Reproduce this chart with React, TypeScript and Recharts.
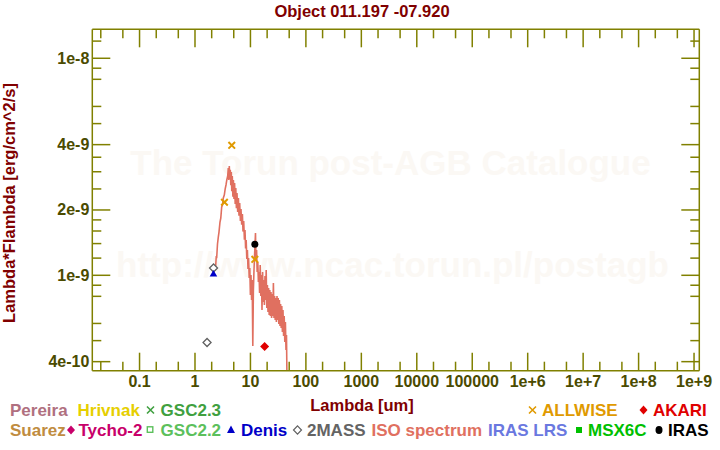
import React from "react";
import { ComposedChart, Line, Scatter, XAxis, YAxis } from "recharts";

// ISO spectrum, wavelength [um] and lambda*F_lambda [erg/cm^2/s]
const ISO_WAVE = [
  2.36, 2.42, 2.46, 2.545, 2.632, 2.709, 2.824, 2.92, 3.03, 3.133, 3.239, 3.376, 3.504, 3.624,
  3.746, 3.888, 3.986, 4.071, 4.156, 4.243, 4.332, 4.422, 4.515, 4.609, 4.706, 4.825, 4.926,
  5.05, 5.178, 5.309, 5.443, 5.58, 5.721, 5.89, 6.064, 6.216, 6.4, 6.59, 6.756, 6.955, 7.161,
  7.341, 7.557, 7.781, 7.977, 8.176, 8.38, 8.593, 8.81, 9.032, 9.262, 9.494, 9.734, 9.98,
  10.23, 10.49, 10.75, 11.03, 11.3, 11.59, 11.88, 12.33, 12.59, 12.91, 13.23, 13.57, 13.91,
  14.27, 14.62, 14.99, 15.37, 15.76, 16.16, 16.56, 16.98, 17.41, 17.85, 18.3, 18.76, 19.23,
  19.72, 20.22, 20.73, 21.25, 21.79, 22.34, 22.9, 23.48, 24.07, 24.67, 25.3, 25.94, 26.59,
  27.26, 27.94, 28.65, 29.38, 30.12, 30.88, 31.66, 32.45, 33.28, 34.12, 34.98, 35.86, 36.77,
  37.7, 38.64, 39.62, 40.62, 41.65, 42.7, 43.77, 44.68, 45.62,
];
const ISO_FLUX = [
  1.104e-9, 1.227e-9, 1.2e-9, 1.394e-9, 1.5e-9, 1.582e-9, 1.76e-9, 1.836e-9, 2.064e-9, 2.109e-9,
  2.272e-9, 2.344e-9, 2.5e-9, 2.607e-9, 2.75e-9, 2.868e-9, 3.12e-9, 2.75e-9, 3.19e-9, 2.78e-9,
  3.06e-9, 2.6e-9, 2.99e-9, 2.44e-9, 2.868e-9, 2.3e-9, 2.75e-9, 2.25e-9, 2.664e-9,
  2.13e-9, 2.525e-9, 2.04e-9, 2.394e-9, 1.96e-9, 2.272e-9, 1.88e-9, 2.154e-9, 1.78e-9,
  2.02e-9, 1.71e-9, 1.916e-9, 1.59e-9, 1.779e-9, 1.46e-9, 1.617e-9, 1.33e-9, 1.455e-9,
  1.19e-9, 1.308e-9, 1.07e-9, 1.2e-9, 9.72e-10, 1.08e-9, 8.11e-10, 1.003e-9, 7.69e-10, 9.51e-10,
  4.72e-10, 8.55e-10, 1.058e-9, 1.24e-9, 1.566e-9, 1.176e-9, 1.308e-9, 1.036e-9, 1.151e-9,
  9.31e-10, 1.036e-9, 8.29e-10, 1.115e-9, 8.03e-10, 1.003e-9, 6.92e-10, 1.036e-9, 7.53e-10,
  9.51e-10, 7.3e-10, 9.93e-10, 7.69e-10, 1.058e-9, 7.07e-10, 9.02e-10, 6.77e-10, 8.74e-10,
  6.56e-10, 8.55e-10, 6.49e-10, 8.37e-10, 6.36e-10, 8.2e-10, 6.49e-10, 9.21e-10, 6.36e-10,
  8.03e-10, 6.22e-10, 7.86e-10, 6.09e-10, 8.03e-10, 6.22e-10, 7.86e-10, 5.96e-10, 7.69e-10,
  5.84e-10, 7.38e-10, 5.72e-10, 7.22e-10, 5.48e-10, 6.92e-10, 5.25e-10, 6.49e-10, 4.93e-10,
  6.09e-10, 4.53e-10, 5.31e-10, 3.29e-10,
];

const ALLWISE_WAVE = [3.4, 4.6, 12];
const ALLWISE_FLUX = [2.17e-9, 3.97e-9, 1.185e-9];
const IRAS_WAVE = [12];
const IRAS_FLUX = [1.39e-9];
const TWOMASS_WAVE = [1.65, 2.16];
const TWOMASS_FLUX = [4.9e-10, 1.08e-9];
const DENIS_WAVE = [2.15];
const DENIS_FLUX = [1.02e-9];
const AKARI_WAVE = [18];
const AKARI_FLUX = [4.7e-10];

const X_MAJOR = [0.1, 1, 10, 100, 1000, 1e4, 1e5, 1e6, 1e7, 1e8, 1e9];
const X_LABELS = ["0.1", "1", "10", "100", "1000", "10000", "100000", "1e+6", "1e+7", "1e+8", "1e+9"];
const X_MINOR = [
  0.02, 0.05, 0.2, 0.5, 2, 5, 20, 50, 200, 500, 2000, 5000, 2e4, 5e4, 2e5, 5e5, 2e6, 5e6, 2e7,
  5e7, 2e8, 5e8,
];
const Y_MAJOR = [4e-10, 1e-9, 2e-9, 4e-9, 1e-8];
const Y_LABELS = ["4e-10", "1e-9", "2e-9", "4e-9", "1e-8"];
const Y_MINOR = [
  5e-10, 6e-10, 8e-10, 9e-10, 1.2e-9, 1.4e-9, 1.6e-9, 1.8e-9, 2.5e-9, 3e-9, 3.5e-9, 5e-9, 6e-9,
  8e-9, 9e-9, 1.2e-8,
];

const X_DOMAIN = [0.01406, 1.244e9];
const Y_DOMAIN = [3.634e-10, 1.36e-8];

const zip = (w: number[], f: number[]) => w.map((v, i) => ({ w: v, f: f[i] }));
const isoData = zip(ISO_WAVE, ISO_FLUX);
const allwiseData = zip(ALLWISE_WAVE, ALLWISE_FLUX);
const irasData = zip(IRAS_WAVE, IRAS_FLUX);
const twomassData = zip(TWOMASS_WAVE, TWOMASS_FLUX);
const denisData = zip(DENIS_WAVE, DENIS_FLUX);
const akariData = zip(AKARI_WAVE, AKARI_FLUX);

const OLIVE = "#808000";
const TICK_TEXT = "#4b4b00";
const DARK_RED = "#800000";
const FONT = "'Liberation Sans', Arial, sans-serif";

const xTicks = [...X_MINOR, ...X_MAJOR].sort((a, b) => a - b);
const yTicks = [...Y_MINOR, ...Y_MAJOR].sort((a, b) => a - b);

const BottomTick = (p: any) => {
  const i = X_MAJOR.indexOf(p.payload.value);
  const len = i >= 0 ? 18 : 9;
  return (
    <g>
      <line x1={p.x} x2={p.x} y1={p.y} y2={p.y - len} stroke={OLIVE} strokeWidth={1.5} />
      {i >= 0 && (
        <text x={p.x} y={p.y + 16} textAnchor="middle" fill={TICK_TEXT} fontSize={16} fontWeight="bold" fontFamily={FONT}>
          {X_LABELS[i]}
        </text>
      )}
    </g>
  );
};

const TopTick = (p: any) => {
  const len = X_MAJOR.indexOf(p.payload.value) >= 0 ? 18 : 9;
  return <line x1={p.x} x2={p.x} y1={p.y} y2={p.y + len} stroke={OLIVE} strokeWidth={1.5} />;
};

const LeftTick = (p: any) => {
  const i = Y_MAJOR.indexOf(p.payload.value);
  const len = i >= 0 ? 18 : 9;
  return (
    <g>
      <line x1={p.x} x2={p.x + len} y1={p.y} y2={p.y} stroke={OLIVE} strokeWidth={1.5} />
      {i >= 0 && (
        <text x={p.x - 3} y={p.y + 5.5} textAnchor="end" fill={TICK_TEXT} fontSize={16} fontWeight="bold" fontFamily={FONT}>
          {Y_LABELS[i]}
        </text>
      )}
    </g>
  );
};

const RightTick = (p: any) => {
  const len = Y_MAJOR.indexOf(p.payload.value) >= 0 ? 18 : 9;
  return <line x1={p.x} x2={p.x - len} y1={p.y} y2={p.y} stroke={OLIVE} strokeWidth={1.5} />;
};

const XMark = (p: any) => (
  <path
    d={`M${p.cx - 3.3},${p.cy - 3.3}L${p.cx + 3.3},${p.cy + 3.3}M${p.cx - 3.3},${p.cy + 3.3}L${p.cx + 3.3},${p.cy - 3.3}`}
    stroke="#e09a00"
    strokeWidth={2}
  />
);
const Dot = (p: any) => <circle cx={p.cx} cy={p.cy} r={3.5} fill="#000" />;
const OpenDiamond = (p: any) => (
  <path d={`M${p.cx},${p.cy - 4}L${p.cx + 4},${p.cy}L${p.cx},${p.cy + 4}L${p.cx - 4},${p.cy}Z`} fill="#fff" stroke="#606060" strokeWidth={1.3} />
);
const Triangle = (p: any) => (
  <path d={`M${p.cx},${p.cy - 3.5}L${p.cx + 3.8},${p.cy + 3}L${p.cx - 3.8},${p.cy + 3}Z`} fill="#0000c8" />
);
const RedDiamond = (p: any) => (
  <path d={`M${p.cx},${p.cy - 4.5}L${p.cx + 4.5},${p.cy}L${p.cx},${p.cy + 4.5}L${p.cx - 4.5},${p.cy}Z`} fill="#e00000" />
);

const legendText = (x: number, y: number, s: string, c: string) => (
  <text x={x} y={y} fill={c} fontSize={17} fontWeight="bold" fontFamily={FONT}>
    {s}
  </text>
);

export default function App() {
  return (
    <div style={{ position: "absolute", left: 0, top: 0, width: 720, height: 450, background: "#fff" }}>
      <svg width={720} height={450} style={{ position: "absolute", left: 0, top: 0 }}>
        <g fill="#fbf8f4" fontWeight="bold" fontFamily={FONT} fontSize={35} textAnchor="middle">
          <text x={390.5} y={175}>The Torun post-AGB Catalogue</text>
          <text x={392.5} y={277}>http://www.ncac.torun.pl/postagb</text>
        </g>
      </svg>
      <div style={{ position: "absolute", left: 0, top: 0 }}>
        <ComposedChart width={720} height={450} margin={{ top: 9.3, right: 0.7, bottom: 49.3, left: 32.3 }}>
          <XAxis
            dataKey="w"
            type="number"
            scale="log"
            domain={X_DOMAIN}
            allowDataOverflow
            ticks={xTicks}
            interval={0}
            height={30}
            tickSize={0}
            tickMargin={0}
            tickLine={false}
            axisLine={{ stroke: OLIVE, strokeWidth: 1.5 }}
            tick={(p: any) => <BottomTick {...p} />}
          />
          <XAxis
            xAxisId="top"
            orientation="top"
            dataKey="w"
            type="number"
            scale="log"
            domain={X_DOMAIN}
            allowDataOverflow
            ticks={xTicks}
            interval={0}
            height={20}
            tickSize={0}
            tickMargin={0}
            tickLine={false}
            axisLine={{ stroke: OLIVE, strokeWidth: 1.5 }}
            tick={(p: any) => <TopTick {...p} />}
          />
          <YAxis
            dataKey="f"
            type="number"
            scale="log"
            domain={Y_DOMAIN}
            allowDataOverflow
            ticks={yTicks}
            interval={0}
            width={60}
            tickSize={0}
            tickMargin={0}
            tickLine={false}
            axisLine={{ stroke: OLIVE, strokeWidth: 1.5 }}
            tick={(p: any) => <LeftTick {...p} />}
          />
          <YAxis
            yAxisId="right"
            orientation="right"
            dataKey="f"
            type="number"
            scale="log"
            domain={Y_DOMAIN}
            allowDataOverflow
            ticks={yTicks}
            interval={0}
            width={20}
            tickSize={0}
            tickMargin={0}
            tickLine={false}
            axisLine={{ stroke: OLIVE, strokeWidth: 1.5 }}
            tick={(p: any) => <RightTick {...p} />}
          />
          <Line data={isoData} dataKey="f" type="linear" stroke="#e07060" strokeWidth={1.6} dot={false} isAnimationActive={false} />
          <Scatter data={twomassData} dataKey="f" shape={(p: any) => <OpenDiamond {...p} />} isAnimationActive={false} />
          <Scatter data={denisData} dataKey="f" shape={(p: any) => <Triangle {...p} />} isAnimationActive={false} />
          <Scatter data={allwiseData} dataKey="f" shape={(p: any) => <XMark {...p} />} isAnimationActive={false} />
          <Scatter data={irasData} dataKey="f" shape={(p: any) => <Dot {...p} />} isAnimationActive={false} />
          <Scatter data={akariData} dataKey="f" shape={(p: any) => <RedDiamond {...p} />} isAnimationActive={false} />
        </ComposedChart>
      </div>
      <svg width={720} height={450} style={{ position: "absolute", left: 0, top: 0, pointerEvents: "none" }}>
        <text x={362} y={17} textAnchor="middle" fill={DARK_RED} fontSize={16.5} fontWeight="bold" fontFamily={FONT}>
          Object 011.197 -07.920
        </text>
        <text
          transform="translate(14.5,203) rotate(-90)"
          textAnchor="middle"
          fill={DARK_RED}
          fontSize={16.5}
          fontWeight="bold"
          fontFamily={FONT}
        >
          Lambda*Flambda [erg/cm^2/s]
        </text>
        <text x={362} y={410.5} textAnchor="middle" fill={DARK_RED} fontSize={16.5} fontWeight="bold" fontFamily={FONT}>
          Lambda [um]
        </text>

        {legendText(10, 416, "Pereira", "#b07080")}
        {legendText(77.5, 416, "Hrivnak", "#e6cf00")}
        <path d="M147,406.5L154,413.5M147,413.5L154,406.5" stroke="#40a040" strokeWidth={1.6} />
        {legendText(160.6, 416, "GSC2.3", "#40a040")}
        <path d="M529,406.5L536,413.5M529,413.5L536,406.5" stroke="#e09a00" strokeWidth={1.6} />
        {legendText(542, 416, "ALLWISE", "#e09a00")}
        <path d="M643.5,405.5L647.5,410L643.5,414.5L639.5,410Z" fill="#e00000" />
        {legendText(653, 416, "AKARI", "#e00000")}

        {legendText(10, 436, "Suarez", "#c08c40")}
        <path d="M71,425.5L75,430L71,434.5L67,430Z" fill="#c8006a" />
        {legendText(78.5, 436, "Tycho-2", "#c8006a")}
        <rect x={147.3} y={426.8} width={5.5} height={5.5} fill="none" stroke="#5cc05c" strokeWidth={1.4} />
        {legendText(160.6, 436, "GSC2.2", "#5cc05c")}
        <path d="M231,425.5L235,433L227,433Z" fill="#0000c8" />
        {legendText(241, 436, "Denis", "#0000c8")}
        <path d="M297.5,425.8L301.5,430L297.5,434.2L293.5,430Z" fill="#fff" stroke="#606060" strokeWidth={1.2} />
        {legendText(307, 436, "2MASS", "#646464")}
        {legendText(371.5, 436, "ISO spectrum", "#e07060")}
        {legendText(488, 436, "IRAS LRS", "#6a78e0")}
        <rect x={576} y={427} width={6} height={6} fill="#00c000" />
        {legendText(588, 436, "MSX6C", "#00c000")}
        <ellipse cx={659} cy={430} rx={3.5} ry={4} fill="#000" />
        {legendText(668, 436, "IRAS", "#000")}
      </svg>
    </div>
  );
}
